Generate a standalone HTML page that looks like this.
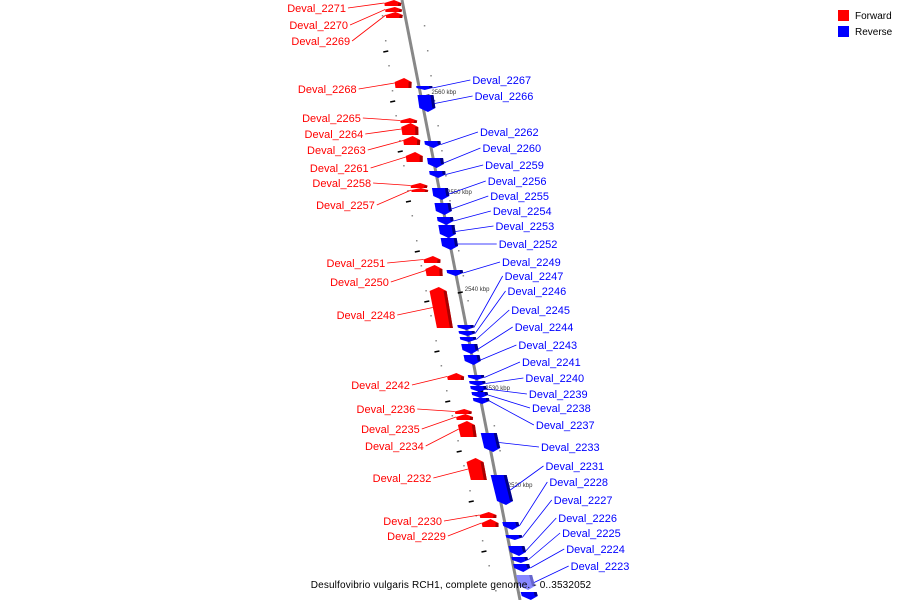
<!DOCTYPE html>
<html><head><meta charset="utf-8"><style>
html,body{margin:0;padding:0;background:#fff;}
svg{display:block;}
text{font-family:"Liberation Sans",sans-serif;}
</style></head><body>
<svg id="chart" width="900" height="600" viewBox="0 0 900 600">
  <line id="axis" x1="402" y1="0" x2="520" y2="600" stroke="#888" stroke-width="3"/>
  <g id="ticks"></g>
  <g id="genes"></g>
  <g id="labels"></g>
  <g>
    <rect x="838" y="10" width="11" height="11" fill="#f00"/>
    <text x="855" y="19" font-size="10" fill="#000">Forward</text>
    <rect x="838" y="26" width="11" height="11" fill="#00f"/>
    <text x="855" y="35" font-size="10" fill="#000">Reverse</text>
  </g>
  <text x="451" y="588" font-size="10" text-anchor="middle" letter-spacing="0.15" fill="#000">Desulfovibrio vulgaris RCH1, complete genome. - 0..3532052</text>
</svg>
<script>
const NS="http://www.w3.org/2000/svg";
// forward genes
const fwdNames=["Deval_2271","Deval_2270","Deval_2269","Deval_2268","Deval_2265","Deval_2264","Deval_2263","Deval_2261","Deval_2258","Deval_2257","Deval_2251","Deval_2250","Deval_2248","Deval_2242","Deval_2236","Deval_2235","Deval_2234","Deval_2232","Deval_2230","Deval_2229"];
const fwdStart=[0,7,12,78,118,123,136,152,183,188,256,265,287,373,409,414,421,458,512,519];
const fwdEnd=[6,12,18,88,123,135,145,162,188,192,263,276,328,380,414,420,437,480,518,527];
const fwdLabelY=[8,25,41,89,118,134,150,168,183,205,263,282,315,385,409,429,446,478,521,536];
// reverse genes
const revNames=["Deval_2267","Deval_2266","Deval_2262","Deval_2260","Deval_2259","Deval_2256","Deval_2255","Deval_2254","Deval_2253","Deval_2252","Deval_2249","Deval_2247","Deval_2246","Deval_2245","Deval_2244","Deval_2243","Deval_2241","Deval_2240","Deval_2239","Deval_2238","Deval_2237","Deval_2233","Deval_2231","Deval_2228","Deval_2227","Deval_2226","Deval_2225","Deval_2224","Deval_2223"];
const revStart=[86,95,141,158,171,188,203,217,225,238,270,325,331,337,344,355,375,381,386,392,398,433,475,522,535,546,557,564,575];
const revEnd=[90,112,148,168,178,200,215,225,238,250,276,330,336,342,354,365,380,386,392,398,404,452,505,530,540,556,563,572,590];
const revLabelY=[80,96,132,148,165,181,196,211,226,244,262,276,291,310,327,345,362,378,394,408,425,447,466,482,500,518,533,549,566];
// scale ticks
const tickKbp=["2560 kbp","2550 kbp","2540 kbp","2530 kbp","2520 kbp"];
const tickY=[95,195,292,391,488];

function ax(y){return 402+0.119*y+0.000129*y*y;}
function el(tag,attrs,parent){const e=document.createElementNS(NS,tag);for(const k in attrs)e.setAttribute(k,attrs[k]);parent.appendChild(e);return e;}
const G=document.getElementById('genes'),L=document.getElementById('labels'),T=document.getElementById('ticks');

tickY.forEach((y,i)=>{
  const x=ax(y);
  const d=el('line',{x1:x+10,y1:y+1,x2:x+15,y2:y,stroke:'#000','stroke-width':1.5},T);
  
  
  const t=el('text',{x:x+17,y:y-1,'font-size':6,fill:'#333'},T);
  t.textContent=tickKbp[i];
  
  
});
for(let y=50;y<600;y+=50){
  const x=ax(y);
  const d=el('line',{x1:x-25,y1:y+2,x2:x-20,y2:y+1,stroke:'#000','stroke-width':1.5},T);
  
  
}
for(let y=15;y<600;y+=25){
  const x=ax(y);
  el('rect',{x:x-22,y:y,width:1.5,height:1.5,fill:'#888'},T);
  el('rect',{x:x+20,y:y+10,width:1.5,height:1.5,fill:'#888'},T);
}

function gene(y0,y1,fwd,name,faded){
  const h=y1-y0, tip=Math.min(4,h/2);
  const a0=ax(y0),a1=ax(y1);
  let l0,r0,l1,r1,pts;
  if(fwd){
    l0=a0-18;r0=a0-2;l1=a1-18;r1=a1-2;
    const m=ax(y0+tip);
    pts=[[(l0+r0)/2+2,y0],[m-1,y0+tip],[r1,y1],[l1,y1],[m-18,y0+tip]];
  }else{
    l0=a0+3;r0=a0+19;l1=a1+3;r1=a1+19;
    const m=ax(y1-tip);
    pts=[[l0,y0],[r0,y0],[m+19,y1-tip],[(l1+r1)/2,y1],[m+3,y1-tip]];
  }
  const p=el('polygon',{points:pts.map(q=>q.join(',')).join(' '),fill:fwd?'#f00':(faded?'#8888ff':'#00f')},G);
  
  
  const s=el('polygon',{points:[[pts[1][0]-3,pts[1][1]],[pts[1][0],pts[1][1]],[pts[2][0],pts[2][1]],[pts[2][0]-3,pts[2][1]]].map(q=>q.join(',')).join(' '),fill:fwd?'#a00':(faded?'#6666cc':'#008')},G);
  
  
}

fwdNames.forEach((n,i)=>{
  gene(fwdStart[i],fwdEnd[i],true,n,false);
  const ly=fwdLabelY[i], tx=ax(ly)-57;
  const gy=(fwdStart[i]+fwdEnd[i])/2;
  const ln=el('line',{x1:tx+2,y1:ly,x2:ax(gy)-18,y2:gy,stroke:'#f00','stroke-width':0.8},L);
  
  
  const t=el('text',{x:tx,y:ly+4,'font-size':11,'text-anchor':'end',fill:'#f00'},L);
  t.textContent=n;
  
  
});
revNames.forEach((n,i)=>{
  gene(revStart[i],revEnd[i],false,n,i===revNames.length-1);
  const ly=revLabelY[i], tx=ax(ly)+60;
  const gy=(revStart[i]+revEnd[i])/2;
  const ln=el('line',{x1:ax(gy)+19,y1:gy,x2:tx-2,y2:ly,stroke:'#00f','stroke-width':0.8},L);
  
  
  const t=el('text',{x:tx,y:ly+4,'font-size':11,fill:'#00f'},L);
  t.textContent=n;
  
  
});
// extra gene at bottom edge
gene(592,600,false,'Deval_2222',false);
</script>
</body></html>
